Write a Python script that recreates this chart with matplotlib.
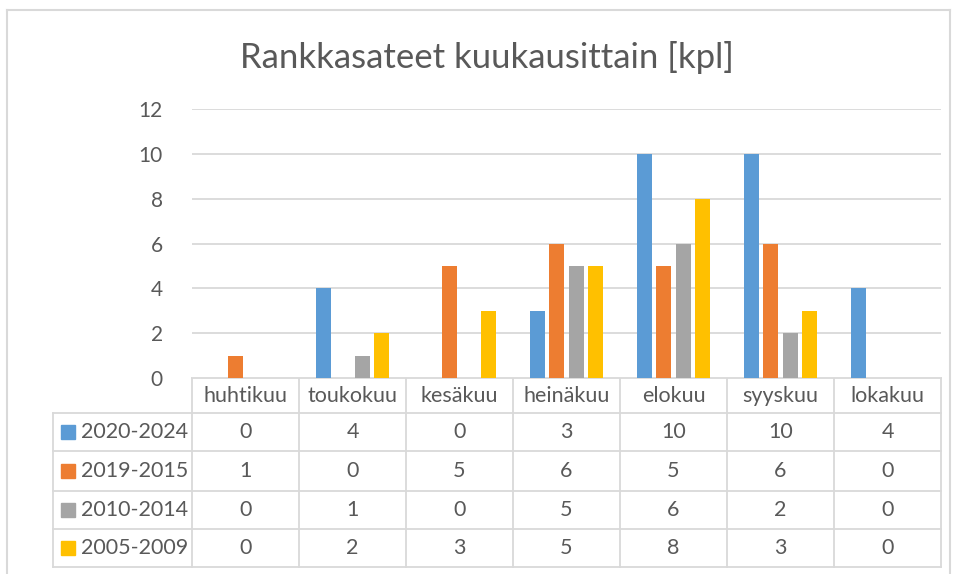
import numpy as np
from matplotlib import pyplot as plt
from matplotlib.patches import Rectangle

months = ["huhtikuu", "toukokuu", "kesäkuu", "heinäkuu", "elokuu", "syyskuu", "lokakuu"]
series = ["2020-2024", "2019-2015", "2010-2014", "2005-2009"]
v2020_2024 = [0, 4, 0, 3, 10, 10, 4]
v2019_2015 = [1, 0, 5, 6, 5, 6, 0]
v2010_2014 = [0, 1, 0, 5, 6, 2, 0]
v2005_2009 = [0, 2, 3, 5, 8, 3, 0]
colors = ["#5b9bd5", "#ed7d31", "#a5a5a5", "#ffc000"]
y_ticks = [0, 2, 4, 6, 8, 10, 12]
title = "Rankkasateet kuukausittain [kpl]"


def main():
    plt.rcParams['font.family'] = ['Lato', 'DejaVu Sans']
    txt = "#595959"
    grid = "#d9d9d9"
    W, H = 955, 574
    fig = plt.figure(figsize=(W / 100, H / 100), dpi=100)

    # pixel layout
    left, right, top, bottom = 192, 941, 109, 378
    ax = fig.add_axes([left / W, 1 - bottom / H, (right - left) / W, (bottom - top) / H])
    values = [v2020_2024, v2019_2015, v2010_2014, v2005_2009]
    x = np.arange(len(months))
    step = 0.182
    width = 0.14
    for i, (vals, c) in enumerate(zip(values, colors)):
        ax.bar(x + (i - 1.5) * step, vals, width=width, color=c, zorder=3)
    ax.set_xlim(-0.5, len(months) - 0.5)
    ax.set_ylim(0, 12)
    ax.set_yticks(y_ticks)
    ax.yaxis.grid(True, color=grid, linewidth=1.3)
    ax.set_axisbelow(True)
    for s in ["left", "right", "top", "bottom"]:
        ax.spines[s].set_visible(False)
    ax.tick_params(axis="y", length=0, pad=21, labelsize=15, labelcolor=txt)
    ax.set_xticks([])

    # table + frame in pixel coordinates
    tab = fig.add_axes([0, 0, 1, 1], zorder=-1)
    tab.set_xlim(0, W)
    tab.set_ylim(H, 0)
    tab.axis("off")
    lc = dict(color=grid, linewidth=1.3)
    # outer chart border
    tab.plot([7, 7], [10, H], color=grid, linewidth=1.5)
    tab.plot([7, 950], [10, 10], color=grid, linewidth=1.5)
    tab.plot([950, 950], [10, H], color=grid, linewidth=1.5)

    fig.text(487 / W, 1 - 58 / H, title, ha="center", va="center",
             fontsize=25, color=txt)

    col_w = (right - left) / len(months)
    rows = [378, 413, 451, 491, 529, 567]
    tab_left = 53
    tab.plot([left, right], [rows[0], rows[0]], **lc)
    for r in rows[1:]:
        tab.plot([tab_left, right], [r, r], **lc)
    tab.plot([tab_left, tab_left], [rows[1], rows[-1]], **lc)
    for j in range(len(months) + 1):
        xx = left + j * col_w
        tab.plot([xx, xx], [rows[0], rows[-1]], **lc)
    fs = 15.5
    for j, m in enumerate(months):
        tab.text(left + (j + 0.5) * col_w, (rows[0] + rows[1]) / 2, m, ha="center",
                 va="center", fontsize=fs, color=txt)
    for i, (name, vals, c) in enumerate(zip(series, values, colors)):
        yc = (rows[i + 1] + rows[i + 2]) / 2
        tab.add_patch(Rectangle((61, yc - 7), 14, 14, color=c))
        tab.text(81, yc, name, ha="left", va="center", fontsize=fs, color=txt)
        for j, v in enumerate(vals):
            tab.text(left + (j + 0.5) * col_w, yc, str(v), ha="center", va="center",
                     fontsize=fs, color=txt)

    plt.savefig("out.png", dpi=100)


if __name__ == "__main__":
    main()
